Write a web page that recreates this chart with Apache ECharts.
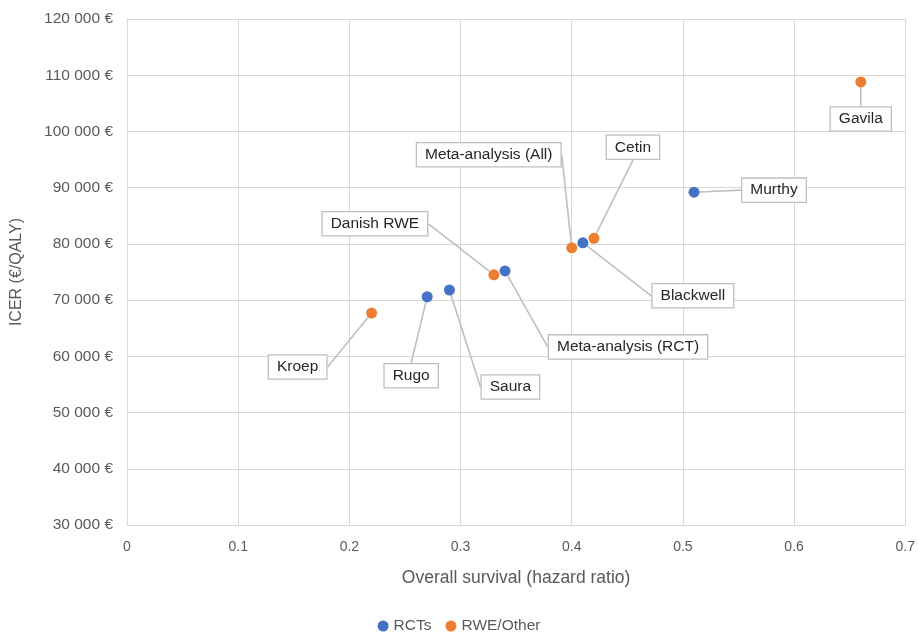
<!DOCTYPE html>
<html>
<head>
<meta charset="utf-8">
<script src="https://cdn.jsdelivr.net/npm/echarts@6/dist/echarts.min.js"></script>
<style>html,body{margin:0;padding:0;background:#fff}#c{width:918px;height:639px}</style>
</head>
<body>
<div id="c"></div>
<script>
// Data
const rctNames = ['Rugo', 'Saura', 'Meta-analysis (RCT)', 'Blackwell', 'Murthy'];
const rctHR = [0.27, 0.29, 0.34, 0.41, 0.51];
const rctICER = [70600, 71800, 75200, 80200, 89200];

const rweNames = ['Kroep', 'Danish RWE', 'Meta-analysis (All)', 'Cetin', 'Gavila'];
const rweHR = [0.22, 0.33, 0.40, 0.42, 0.66];
const rweICER = [67700, 74500, 79300, 81000, 108800];

const seriesNames = ['RCTs', 'RWE/Other'];
const xTicks = [0, 0.1, 0.2, 0.3, 0.4, 0.5, 0.6, 0.7];
const yTicks = [30000, 40000, 50000, 60000, 70000, 80000, 90000, 100000, 110000, 120000];

// Label placement (pixel offsets of label centre from its point) - layout only
const labelOffsets = {
  'Rugo': [-16, 79], 'Saura': [61, 97], 'Meta-analysis (RCT)': [123, 76],
  'Blackwell': [110, 53], 'Murthy': [80, -2],
  'Kroep': [-74, 54], 'Danish RWE': [-119, -51], 'Meta-analysis (All)': [-83, -93],
  'Cetin': [39, -91], 'Gavila': [0, 37]
};

function build(names, xs, ys) {
  return names.map((n, i) => ({ name: n, value: [xs[i], ys[i]] }));
}

const font = "'Liberation Sans', 'Noto Sans', sans-serif";
const fmtNum = v => String(v).replace(/\B(?=(\d{3})+(?!\d))/g, ' ') + ' €';

const labelCommon = {
  show: true,
  formatter: '{b}',
  position: 'inside',
  color: '#262626',
  fontSize: 15.5,
  fontFamily: font,
  backgroundColor: '#fff',
  borderColor: '#bfbfbf',
  borderWidth: 1.3,
  padding: [4, 8, 3, 8]
};

const chart = echarts.init(document.getElementById('c'), null, { renderer: 'canvas' });
chart.setOption({
  animation: false,
  textStyle: { fontFamily: font },
  grid: { left: 127, right: 11, top: 19, bottom: 114, containLabel: false },
  xAxis: {
    type: 'value', min: xTicks[0], max: xTicks[xTicks.length - 1], interval: 0.1,
    name: 'Overall survival (hazard ratio)', nameLocation: 'middle', nameGap: 44,
    nameTextStyle: { color: '#595959', fontSize: 17.5, fontFamily: font },
    axisLine: { show: true, lineStyle: { color: '#d9d9d9', width: 1 } },
    axisTick: { show: false },
    axisLabel: { color: '#595959', fontSize: 14, margin: 15, formatter: v => String(+v.toFixed(1)) },
    splitLine: { show: true, lineStyle: { color: '#d9d9d9', width: 1 } }
  },
  yAxis: {
    type: 'value', min: yTicks[0], max: yTicks[yTicks.length - 1], interval: 10000,
    name: 'ICER (€/QALY)', nameLocation: 'middle', nameGap: 102,
    nameTextStyle: { color: '#595959', fontSize: 16, fontFamily: font },
    axisLine: { show: true, lineStyle: { color: '#d9d9d9', width: 1 } },
    axisTick: { show: false },
    axisLabel: { color: '#595959', fontSize: 15.5, margin: 14, formatter: fmtNum },
    splitLine: { show: true, lineStyle: { color: '#d9d9d9', width: 1 } }
  },
  legend: {
    bottom: 0, left: 'center', icon: 'circle', itemWidth: 11, itemHeight: 11, itemGap: 14,
    textStyle: { color: '#595959', fontSize: 15.5, fontFamily: font },
    data: seriesNames
  },
  series: [
    {
      name: seriesNames[0], type: 'scatter', symbolSize: 11,
      itemStyle: { color: '#4472C4', opacity: 1 },
      data: build(rctNames, rctHR, rctICER),
      label: labelCommon,
      labelLine: { show: true, lineStyle: { color: '#bfbfbf', width: 1.6 } },
      labelLayout: p => { const o = labelOffsets[rctNames[p.dataIndex]]; return { dx: o[0], dy: o[1], hideOverlap: false }; }
    },
    {
      name: seriesNames[1], type: 'scatter', symbolSize: 11,
      itemStyle: { color: '#ED7D31', opacity: 1 },
      data: build(rweNames, rweHR, rweICER),
      label: labelCommon,
      labelLine: { show: true, lineStyle: { color: '#bfbfbf', width: 1.6 } },
      labelLayout: p => { const o = labelOffsets[rweNames[p.dataIndex]]; return { dx: o[0], dy: o[1], hideOverlap: false }; }
    }
  ]
});
</script>
</body>
</html>
